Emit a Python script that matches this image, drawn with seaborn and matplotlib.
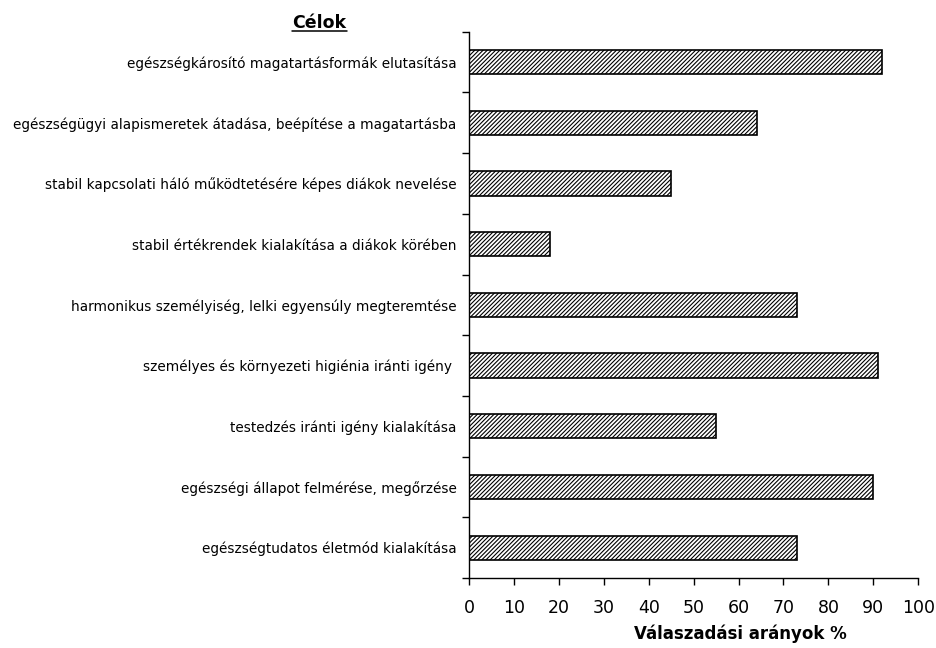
import matplotlib
matplotlib.use("Agg")
import matplotlib.pyplot as plt
import seaborn as sns
import pandas as pd
import numpy as np

categories = [
    "egészségkárosító magatartásformák elutasítása",
    "egészségügyi alapismeretek átadása, beépítése a magatartásba",
    "stabil kapcsolati háló működtetésére képes diákok nevelése",
    "stabil értékrendek kialakítása a diákok körében",
    "harmonikus személyiség, lelki egyensúly megteremtése",
    "személyes és környezeti higiénia iránti igény ",
    "testedzés iránti igény kialakítása",
    "egészségi állapot felmérése, megőrzése",
    "egészségtudatos életmód kialakítása",
]
values = [92, 64, 45, 18, 73, 91, 55, 90, 73]
x_ticks = [0, 10, 20, 30, 40, 50, 60, 70, 80, 90, 100]

sns.set_style("white")
plt.rcParams["font.family"] = ["DejaVu Sans"]
plt.rcParams["hatch.linewidth"] = 0.8
plt.rcParams["hatch.color"] = "black"
plt.rcParams["text.color"] = "black"
plt.rcParams["axes.labelcolor"] = "black"
plt.rcParams["xtick.color"] = "black"
plt.rcParams["ytick.color"] = "black"

df = pd.DataFrame({"cel": categories, "arany": values})

fig = plt.figure(figsize=(9.37, 6.48), dpi=100)
ax = fig.add_axes([0.5005, 0.108, 0.4795, 0.843])

sns.barplot(data=df, y="cel", x="arany", orient="h", order=categories,
            color="white", edgecolor="black", linewidth=1.2, width=0.4,
            hatch="////////", ax=ax)

ax.set_xlim(0, 100)
ax.set_ylim(len(categories) - 0.5, -0.5)
ax.set_xticks(x_ticks)
ax.set_xticklabels([str(t) for t in x_ticks], fontsize=12.5)
ax.tick_params(axis="x", which="major", bottom=True, direction="out",
               length=5, width=1, color="black", pad=10)

ax.set_yticks(np.arange(len(categories)))
ax.set_yticklabels(categories, fontsize=9.8)
ax.tick_params(axis="y", which="major", left=True, length=0, pad=9)
ax.set_yticks(np.arange(-0.5, len(categories) + 0.5, 1), minor=True)
ax.tick_params(axis="y", which="minor", left=True, direction="out",
               length=5, width=1, color="black")

for side in ["top", "right"]:
    ax.spines[side].set_visible(False)
for side in ["left", "bottom"]:
    ax.spines[side].set_color("black")
    ax.spines[side].set_linewidth(1.0)

ax.set_ylabel("")
ax.set_xlabel("Válaszadási arányok %", fontsize=12, fontweight="bold")
ax.xaxis.set_label_coords(0.604, -0.085)

fig.text(0.341, 0.957, "Célok", fontsize=12.5, fontweight="bold", ha="center",
         va="baseline")
fig.add_artist(plt.Line2D([0.312, 0.370], [0.952, 0.952], color="black", linewidth=1.1))

fig.savefig("out.png", dpi=100)
